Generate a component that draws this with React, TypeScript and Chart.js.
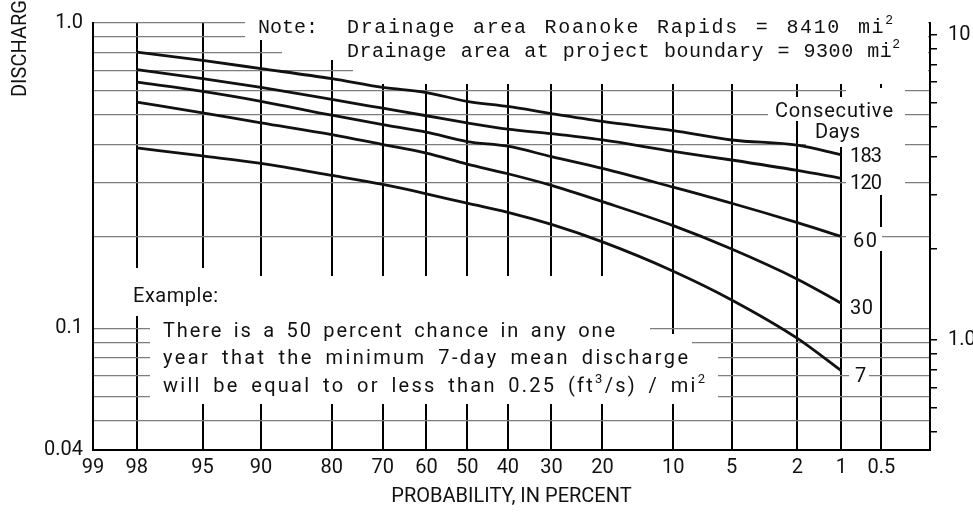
import React, { useEffect, useRef } from 'react';
import { Chart, registerables, LinearScale } from 'chart.js';

// ---------------- DATA ----------------
// Exceedance probability (percent) at which each curve was read
const PROBABILITY = [98, 95, 90, 80, 70, 60, 50, 40, 30, 20, 10, 5, 2, 1];
// Minimum mean discharge, (ft3/s)/mi2, for each number of consecutive days
const DAYS_183 = [0.803, 0.754, 0.709, 0.657, 0.615, 0.592, 0.554, 0.533, 0.505, 0.476, 0.444, 0.414, 0.398, 0.37];
const DAYS_120 = [0.704, 0.657, 0.615, 0.562, 0.526, 0.497, 0.471, 0.449, 0.434, 0.414, 0.38, 0.356, 0.329, 0.31];
const DAYS_60 = [0.64, 0.597, 0.554, 0.499, 0.465, 0.439, 0.409, 0.395, 0.365, 0.334, 0.29, 0.257, 0.222, 0.2];
const DAYS_30 = [0.551, 0.508, 0.471, 0.431, 0.4, 0.375, 0.345, 0.321, 0.294, 0.26, 0.217, 0.182, 0.145, 0.121];
const DAYS_7 = [0.39, 0.367, 0.347, 0.317, 0.296, 0.276, 0.257, 0.24, 0.219, 0.192, 0.154, 0.124, 0.0928, 0.0727];
const SERIES_NAMES = ['183', '120', '60', '30', '7'];
const SERIES_VALUES = [DAYS_183, DAYS_120, DAYS_60, DAYS_30, DAYS_7];

// x axis (probability paper)
const X_LEFT = 99;
const X_RIGHT = 0.2;
const PROB_TICKS = [99, 98, 95, 90, 80, 70, 60, 50, 40, 30, 20, 10, 5, 2, 1, 0.5];
const PROB_TICK_LABELS = ['99', '98', '95', '90', '80', '70', '60', '50', '40', '30', '20', '10', '5', '2', '1', '0.5'];
const X_TITLE = 'PROBABILITY, IN PERCENT';

// left y axis
const Y_MIN = 0.04;
const Y_MAX = 1.0;
const Y_GRID = [0.04, 0.05, 0.06, 0.07, 0.08, 0.09, 0.1, 0.2, 0.3, 0.4, 0.5, 0.6, 0.7, 0.8, 0.9, 1.0];
const Y_GRID_LABELS = ['0.04', '', '', '', '', '', '0.1', '', '', '', '', '', '', '', '', '1.0'];
const Y_TITLE = 'DISCHARGE';

// right y axis (liters per second per square kilometer)
const RIGHT_FACTOR = 10.93;
const RIGHT_GRID = [0.5, 0.6, 0.7, 0.8, 0.9, 1, 2, 3, 4, 5, 6, 7, 8, 9, 10];
const RIGHT_GRID_LABELS = ['', '', '', '', '', '1.0', '', '', '', '', '', '', '', '', '10'];

// ---------------- LAYOUT / STYLE ----------------
const W = 973;
const H = 514;
const INK = '#111111';
const SANS = 'Roboto, "DejaVu Sans", sans-serif';
const TICK_FONT = { family: SANS, size: 20 };
const NOTE_FONT = '20px "Liberation Mono", "DejaVu Sans Mono", monospace';
const NOTE_SUP = '13px "Liberation Mono", "DejaVu Sans Mono", monospace';
const LETTER_FONT = '20px Roboto, "DejaVu Sans", sans-serif';
const LETTER_SUP = '13px Roboto, "DejaVu Sans", sans-serif';

type Seg = { t: string; sup?: boolean };
type TextSpec = { segs: Seg[]; x0: number; x1: number; y: number; font: string; sup: string };

const TEXTS: TextSpec[] = [
  { segs: [{ t: 'Note:' }], x0: 258, x1: 318, y: 33, font: NOTE_FONT, sup: NOTE_SUP },
  { segs: [{ t: 'Drainage area Roanoke Rapids = 8410 mi' }, { t: '2', sup: true }], x0: 347, x1: 893, y: 33, font: NOTE_FONT, sup: NOTE_SUP },
  { segs: [{ t: 'Drainage area at project boundary = 9300 mi' }, { t: '2', sup: true }], x0: 347, x1: 900, y: 57, font: NOTE_FONT, sup: NOTE_SUP },
  { segs: [{ t: 'Consecutive' }], x0: 775, x1: 893, y: 117, font: LETTER_FONT, sup: LETTER_SUP },
  { segs: [{ t: 'Days' }], x0: 815, x1: 860, y: 138, font: LETTER_FONT, sup: LETTER_SUP },
  { segs: [{ t: SERIES_NAMES[0] }], x0: 850, x1: 882, y: 162, font: LETTER_FONT, sup: LETTER_SUP },
  { segs: [{ t: SERIES_NAMES[1] }], x0: 850, x1: 882, y: 189, font: LETTER_FONT, sup: LETTER_SUP },
  { segs: [{ t: SERIES_NAMES[2] }], x0: 853, x1: 877, y: 247, font: LETTER_FONT, sup: LETTER_SUP },
  { segs: [{ t: SERIES_NAMES[3] }], x0: 850, x1: 873, y: 314, font: LETTER_FONT, sup: LETTER_SUP },
  { segs: [{ t: SERIES_NAMES[4] }], x0: 855, x1: 863, y: 382, font: LETTER_FONT, sup: LETTER_SUP },
  { segs: [{ t: 'Example:' }], x0: 133, x1: 218, y: 302, font: LETTER_FONT, sup: LETTER_SUP },
  { segs: [{ t: 'There is a 50 percent chance in any one' }], x0: 163, x1: 615, y: 337, font: LETTER_FONT, sup: LETTER_SUP },
  { segs: [{ t: 'year that the minimum 7-day mean discharge' }], x0: 163, x1: 688, y: 364, font: LETTER_FONT, sup: LETTER_SUP },
  {
    segs: [{ t: 'will be equal to or less than 0.25 (ft' }, { t: '3', sup: true }, { t: '/s) / mi' }, { t: '2', sup: true }],
    x0: 163, x1: 705, y: 392, font: LETTER_FONT, sup: LETTER_SUP,
  },
];

// white areas where the printed grid is interrupted by lettering
const MASKS = [
  [245, 12, 928, 40],
  [282, 40, 928, 60],
  [353, 60, 928, 84],
  [768, 97, 900, 121],
  [806, 121, 866, 147],
  [846, 88, 905, 195],
  [846, 227, 882, 251],
  [849, 364, 869, 389],
  [128, 268, 226, 316],
  [150, 276, 650, 404],
  [650, 334, 692, 404],
  [692, 350, 718, 404],
];

// ---------------- NORMAL PROBABILITY SCALE ----------------
function qnorm(p: number): number {
  const a = [-39.69683028665376, 220.9460984245205, -275.9285104469687, 138.357751867269, -30.66479806614716, 2.506628277459239];
  const b = [-54.47609879822406, 161.5858368580409, -155.6989798598866, 66.80131188771972, -13.28068155288572];
  const c = [-0.007784894002430293, -0.3223964580411365, -2.400758277161838, -2.549732539343734, 4.374664141464968, 2.938163982698783];
  const d = [0.007784695709041462, 0.3224671290700398, 2.445134137142996, 3.754408661907416];
  const plow = 0.02425;
  const phigh = 1 - plow;
  let q: number;
  let r: number;
  if (p < plow) {
    q = Math.sqrt(-2 * Math.log(p));
    return (((((c[0] * q + c[1]) * q + c[2]) * q + c[3]) * q + c[4]) * q + c[5]) / ((((d[0] * q + d[1]) * q + d[2]) * q + d[3]) * q + 1);
  }
  if (p <= phigh) {
    q = p - 0.5;
    r = q * q;
    return ((((((a[0] * r + a[1]) * r + a[2]) * r + a[3]) * r + a[4]) * r + a[5]) * q) / (((((b[0] * r + b[1]) * r + b[2]) * r + b[3]) * r + b[4]) * r + 1);
  }
  q = Math.sqrt(-2 * Math.log(1 - p));
  return -(((((c[0] * q + c[1]) * q + c[2]) * q + c[3]) * q + c[4]) * q + c[5]) / ((((d[0] * q + d[1]) * q + d[2]) * q + d[3]) * q + 1);
}
const probit = (pct: number) => qnorm(1 - pct / 100);

class ProbabilityScale extends LinearScale {
  static id = 'probability';
  static defaults = {};
  determineDataLimits() {
    (this as any).min = X_RIGHT;
    (this as any).max = X_LEFT;
  }
  buildTicks() {
    return PROB_TICKS.map((value) => ({ value }));
  }
  getPixelForValue(value: number) {
    const zl = probit(X_LEFT);
    const zr = probit(X_RIGHT);
    return (this as any).getPixelForDecimal((probit(value) - zl) / (zr - zl));
  }
  getValueForPixel(pixel: number) {
    const zl = probit(X_LEFT);
    const zr = probit(X_RIGHT);
    const z = zl + (this as any).getDecimalForPixel(pixel) * (zr - zl);
    let lo = 0.01;
    let hi = 99.99;
    for (let i = 0; i < 50; i++) {
      const mid = (lo + hi) / 2;
      if (probit(mid) > z) lo = mid;
      else hi = mid;
    }
    return (lo + hi) / 2;
  }
}

Chart.register(...registerables, ProbabilityScale as any);

// ---------------- TEXT HELPERS ----------------
function drawFitted(ctx: CanvasRenderingContext2D, spec: TextSpec) {
  const chars: { ch: string; sup: boolean; w: number }[] = [];
  for (const s of spec.segs) {
    for (const ch of s.t) {
      ctx.font = s.sup ? spec.sup : spec.font;
      chars.push({ ch, sup: !!s.sup, w: ctx.measureText(ch).width });
    }
  }
  const natural = chars.reduce((acc, c) => acc + c.w, 0);
  let weights = 0;
  for (let i = 0; i < chars.length - 1; i++) weights += chars[i].ch === ' ' ? 3 : 1;
  const unit = chars.length > 1 && weights > 0 ? (spec.x1 - spec.x0 - natural) / weights : 0;
  let x = spec.x0;
  for (let i = 0; i < chars.length; i++) {
    const c = chars[i];
    ctx.font = c.sup ? spec.sup : spec.font;
    ctx.fillText(c.ch, x, c.sup ? spec.y - 9 : spec.y);
    x += c.w + (c.ch === ' ' ? 3 : 1) * unit;
  }
}

const overlayPlugin = {
  id: 'overlay',
  beforeDatasetsDraw(chart: any) {
    const ctx: CanvasRenderingContext2D = chart.ctx;
    ctx.save();
    ctx.fillStyle = '#ffffff';
    for (const [x0, y0, x1, y1] of MASKS) ctx.fillRect(x0, y0, x1 - x0, y1 - y0);
    ctx.restore();
  },
  afterDatasetsDraw(chart: any) {
    const ctx: CanvasRenderingContext2D = chart.ctx;
    ctx.save();
    ctx.fillStyle = INK;
    ctx.textAlign = 'left';
    ctx.textBaseline = 'alphabetic';
    for (const t of TEXTS) drawFitted(ctx, t);
    ctx.font = LETTER_FONT;
    ctx.translate(26, 97);
    ctx.rotate(-Math.PI / 2);
    ctx.fillText(Y_TITLE, 0, 0);
    ctx.restore();
  },
};

export default function App() {
  const canvasRef = useRef<HTMLCanvasElement | null>(null);

  useEffect(() => {
    const canvas = canvasRef.current;
    if (!canvas) return;
    const datasets = SERIES_VALUES.map((values, s) => ({
      label: SERIES_NAMES[s] + ' days',
      data: PROBABILITY.map((p, i) => ({ x: p, y: values[i] })),
      borderColor: INK,
      backgroundColor: INK,
      borderWidth: 2.8,
      pointRadius: 0,
      fill: false,
      cubicInterpolationMode: 'monotone' as const,
      yAxisID: 'y',
    }));

    const chart = new Chart(canvas, {
      type: 'line',
      data: { datasets },
      options: {
        animation: false,
        responsive: false,
        events: [],
        layout: { padding: { top: 18, left: 0, right: 0, bottom: 0 } },
        plugins: { legend: { display: false }, tooltip: { enabled: false } },
        scales: {
          x: {
            type: 'probability' as any,
            position: 'bottom',
            afterFit: (s: any) => {
              s.height = 64;
            },
            grid: { color: '#000000', lineWidth: 2, drawTicks: false },
            border: { display: true, color: '#000000', width: 2 },
            ticks: {
              autoSkip: false,
              maxRotation: 0,
              padding: 6,
              color: INK,
              font: TICK_FONT,
              callback: (_v: any, i: number) => PROB_TICK_LABELS[i],
            },
            title: {
              display: true,
              text: X_TITLE,
              color: INK,
              font: { family: SANS, size: 20 },
              padding: { top: 0, bottom: 5 },
            },
          } as any,
          y: {
            type: 'logarithmic',
            position: 'left',
            min: Y_MIN,
            max: Y_MAX,
            afterFit: (s: any) => {
              s.width = 93;
            },
            afterBuildTicks: (s: any) => {
              s.ticks = Y_GRID.map((value) => ({ value }));
            },
            grid: { color: '#7d7d7d', lineWidth: 1.2, drawTicks: false },
            border: { display: true, color: '#000000', width: 2 },
            ticks: {
              autoSkip: false,
              padding: 10,
              color: INK,
              font: TICK_FONT,
              callback: (_v: any, i: number) => Y_GRID_LABELS[i],
            },
          },
          y2: {
            type: 'logarithmic',
            position: 'right',
            min: Y_MIN * RIGHT_FACTOR,
            max: Y_MAX * RIGHT_FACTOR,
            afterFit: (s: any) => {
              s.width = W - 930;
            },
            afterBuildTicks: (s: any) => {
              s.ticks = RIGHT_GRID.map((value) => ({ value }));
            },
            grid: { drawOnChartArea: false, drawTicks: true, tickLength: 7, color: '#000000', lineWidth: 1.5 },
            border: { display: true, color: '#000000', width: 2 },
            ticks: {
              autoSkip: false,
              padding: 11,
              color: INK,
              font: TICK_FONT,
              callback: (_v: any, i: number) => RIGHT_GRID_LABELS[i],
            },
          },
        },
      },
      plugins: [overlayPlugin],
    });
    return () => chart.destroy();
  }, []);

  return (
    <div style={{ position: 'fixed', left: 0, top: 0, width: W, height: H, background: '#ffffff' }}>
      <canvas ref={canvasRef} width={W} height={H} style={{ width: W, height: H, display: 'block' }} />
    </div>
  );
}
